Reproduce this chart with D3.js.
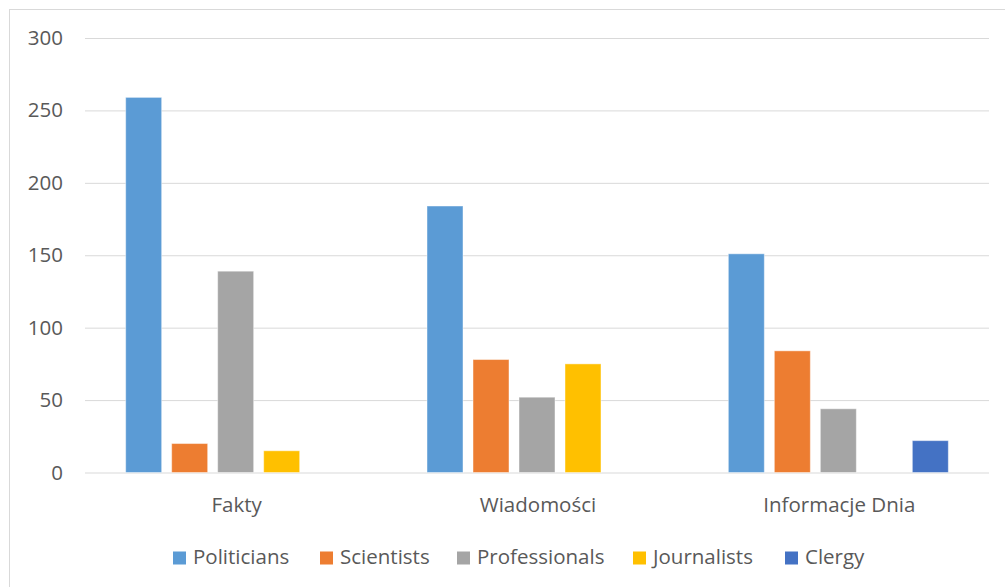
<!DOCTYPE html>
<html lang="en">
<head>
    <meta charset="utf-8">
    <script src="https://d3js.org/d3.v7.min.js"></script>
    <style>
        body { margin: 0; background: #fff; }
        text { font-family: "Open Sans", Lato, sans-serif; fill: #595959; }
    </style>
</head>
<body>
<script>
    // chart data
    var categories = ["Fakty", "Wiadomości", "Informacje Dnia"];
    var series = ["Politicians", "Scientists", "Professionals", "Journalists", "Clergy"];
    var politicians = [259, 184, 151];
    var scientists = [20, 78, 84];
    var professionals = [139, 52, 44];
    var journalists = [15, 75, 0];
    var clergy = [0, 0, 22];
    var yTicks = [0, 50, 100, 150, 200, 250, 300];
    var colors = ["#5B9BD5", "#ED7D31", "#A5A5A5", "#FFC000", "#4472C4"];

    var values = [politicians, scientists, professionals, journalists, clergy];

    var width = 1005,
        height = 587,
        fontSize = "20.5px";

    var svg = d3.select("body")
                .append("svg")
                .attr("width", width)
                .attr("height", height);

    // outer chart frame (cut off on the right and bottom)
    svg.append("rect")
       .attr("x", 9.5).attr("y", 9.5)
       .attr("width", 1010).attr("height", 600)
       .attr("fill", "none")
       .attr("stroke", "#d9d9d9");

    var x0 = d3.scaleBand()
               .domain(categories)
               .range([85, 989]);

    // 5 bars of 36px with 10px gaps inside each category
    var x1 = d3.scaleBand()
               .domain(series)
               .range([0, 220])
               .paddingInner(10 / 46)
               .paddingOuter(0);

    var y = d3.scaleLinear()
              .domain([0, 300])
              .range([472.5, 38]);

    // gridlines + tick labels
    var yAxis = svg.append("g")
       .attr("transform", "translate(85,0)")
       .call(d3.axisLeft(y).tickValues(yTicks).tickSize(-904).tickPadding(22));
    yAxis.select(".domain").remove();
    yAxis.selectAll("line").attr("stroke", "#d9d9d9").attr("stroke-width", 1);
    yAxis.selectAll("text")
         .style("font-size", fontSize)
         .style("font-family", "'Open Sans', sans-serif")
         .attr("fill", "#595959");

    // bars
    var groups = svg.selectAll("g.cat")
       .data(categories)
       .enter()
       .append("g")
       .attr("class", "cat")
       .attr("transform", function (d) {
           return "translate(" + (x0(d) + x0.bandwidth() / 2 - 110) + ",0)";
       });

    groups.selectAll("rect")
       .data(function (d, i) {
           return series.map(function (s, j) { return { s: s, v: values[j][i], c: colors[j] }; });
       })
       .enter()
       .append("rect")
       .filter(function (d) { return d.v > 0; })
       .attr("x", function (d) { return x1(d.s); })
       .attr("y", function (d) { return y(d.v); })
       .attr("width", x1.bandwidth())
       .attr("height", function (d) { return y(0) - y(d.v); })
       .attr("fill", function (d) { return d.c; })
       .attr("stroke", "rgba(255,255,255,0.45)")
       .attr("stroke-width", 1);

    // category labels
    svg.selectAll("text.cat")
       .data(categories)
       .enter()
       .append("text")
       .attr("class", "cat")
       .attr("x", function (d) { return x0(d) + x0.bandwidth() / 2 + 1; })
       .attr("y", 511.5)
       .attr("text-anchor", "middle")
       .style("font-size", fontSize)
       .text(function (d) { return d; });

    // legend
    var legendX = [173, 320, 457, 633, 785];
    var legend = svg.selectAll("g.legend")
       .data(series)
       .enter()
       .append("g")
       .attr("class", "legend")
       .attr("transform", function (d, i) { return "translate(" + legendX[i] + ",551.5)"; });

    legend.append("rect")
       .attr("width", 13).attr("height", 13)
       .attr("fill", function (d, i) { return colors[i]; });

    legend.append("text")
       .attr("x", 20)
       .attr("y", 12.5)
       .style("font-size", fontSize)
       .text(function (d) { return d; });
</script>
</body>
</html>
